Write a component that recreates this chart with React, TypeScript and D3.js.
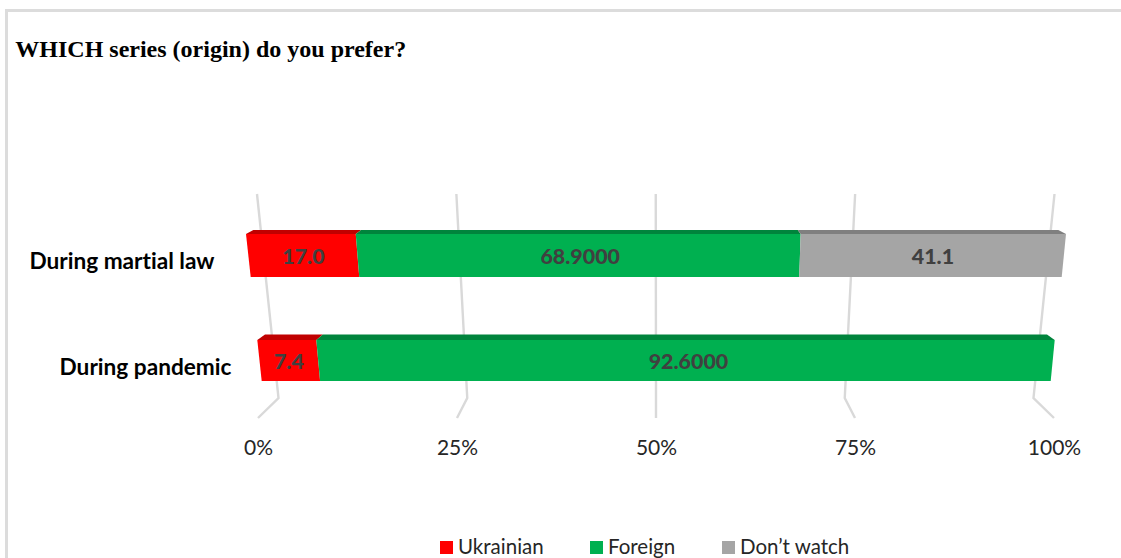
import React from "react";
import * as d3 from "d3";

const title = "WHICH series (origin) do you prefer?";
const categories = ["During martial law", "During pandemic"];
const seriesNames = ["Ukrainian", "Foreign", "Don’t watch"];
const ukrainian = [17.0, 7.4];
const foreign = [68.9, 92.6];
const dontWatch = [41.1, 0];
const labelFormats = [".1f", ".4f", ".1f"];
const ticks = [0, 0.25, 0.5, 0.75, 1];
const frontColors = ["#ff0000", "#00b050", "#a5a5a5"];
const topColors = ["#c00000", "#00843c", "#7f7f7f"];

const W = 1121, H = 558;
const FONT = "Lato, 'Open Sans', sans-serif";

// perspective frame: horizontal scale at each depth/height
const wallTop = d3.scaleLinear().domain([0, 1]).range([257, 1054.5]);
const wallBottom = d3.scaleLinear().domain([0, 1]).range([278.5, 1033.5]);
const floorFront = d3.scaleLinear().domain([0, 1]).range([258, 1054]);
const rowsGeom = [
  { yBack: 230, yTop: 234, yBottom: 277,
    back: d3.scaleLinear().range([253.3, 1058.3]),
    top: d3.scaleLinear().range([246, 1066]),
    bottom: d3.scaleLinear().range([250.7, 1061.7]), labelDx: [0.5, 1.5, 1], labelY: 257 },
  { yBack: 334.5, yTop: 340, yBottom: 381,
    back: d3.scaleLinear().range([265, 1047]),
    top: d3.scaleLinear().range([257.3, 1054.7]),
    bottom: d3.scaleLinear().range([261.7, 1050.7]), labelDx: [0, 3, 0], labelY: 362 },
];
const catLabelRight = [214.5, 231.5];
const catLabelY = [261.8, 367.8];
const legendSwatchX = [440, 590, 722];

const rows = categories.map((c, i) => ({ c, s0: ukrainian[i], s1: foreign[i], s2: dontWatch[i] }));
const stacked = d3.stack<any>().keys(["s0", "s1", "s2"]).offset(d3.stackOffsetExpand)(rows);
const raw = [ukrainian, foreign, dontWatch];

export default function App() {
  const poly = d3.line();
  return (
    <svg width={W} height={H} viewBox={`0 0 ${W} ${H}`}
      style={{ position: "absolute", left: 0, top: 0, display: "block", background: "#fff", fontVariantLigatures: "none" }}>
      <rect x={6.5} y={10.5} width={W + 20} height={H + 20} fill="none" stroke="#dcdcdc" strokeWidth={3} />
      <text x={15.3} y={57} fontFamily="'Liberation Serif', serif" fontWeight={700} fontSize={24} fill="#000">{title}</text>

      {ticks.map((t) => (
        <path key={t} fill="none" stroke="#d9d9d9" strokeWidth={2.4}
          d={poly([[wallTop(t), 194], [wallBottom(t), 398], [floorFront(t), 418]]) || ""} />
      ))}
      {ticks.map((t) => (
        <text key={t} x={floorFront(t) + 0.5} y={455} textAnchor="middle" fontFamily={FONT} fontSize={21} fill="#262626">
          {d3.format(".0%")(t)}
        </text>
      ))}

      {stacked.map((ser, si) => ser.map((d, ri) => {
        if (raw[si][ri] === 0) return null;
        const g = rowsGeom[ri];
        const [a, b] = [d[0], d[1]];
        return (
          <g key={`${si}-${ri}`}>
            <path fill={topColors[si]} d={poly([[g.back(a), g.yBack], [g.back(b), g.yBack], [g.top(b), g.yTop], [g.top(a), g.yTop]]) + "Z"} />
            <path fill={frontColors[si]} d={poly([[g.top(a), g.yTop], [g.top(b), g.yTop], [g.bottom(b), g.yBottom], [g.bottom(a), g.yBottom]]) + "Z"} />
          </g>
        );
      }))}
      {stacked.map((ser, si) => ser.map((d, ri) => {
        if (raw[si][ri] === 0) return null;
        const g = rowsGeom[ri];
        const m = (d[0] + d[1]) / 2;
        const x = (g.top(m) + g.bottom(m)) / 2 + g.labelDx[si];
        return (
          <text key={`l${si}-${ri}`} x={x} y={g.labelY} dy="0.35em" textAnchor="middle"
            fontFamily={FONT} fontWeight={900} fontSize={21.4} fill="#404040">
            {d3.format(labelFormats[si])(raw[si][ri])}
          </text>
        );
      }))}

      {categories.map((c, i) => (
        <text key={c} x={catLabelRight[i]} y={catLabelY[i] + 7} textAnchor="end"
          fontFamily={FONT} fontWeight={700} fontSize={22.65} fill="#000">{c}</text>
      ))}

      {seriesNames.map((n, i) => (
        <g key={n}>
          <rect x={legendSwatchX[i]} y={541} width={13} height={13} fill={frontColors[i]} />
          <text x={legendSwatchX[i] + 18} y={554} fontFamily={FONT} fontSize={20.5} fill="#262626">{n}</text>
        </g>
      ))}
    </svg>
  );
}
